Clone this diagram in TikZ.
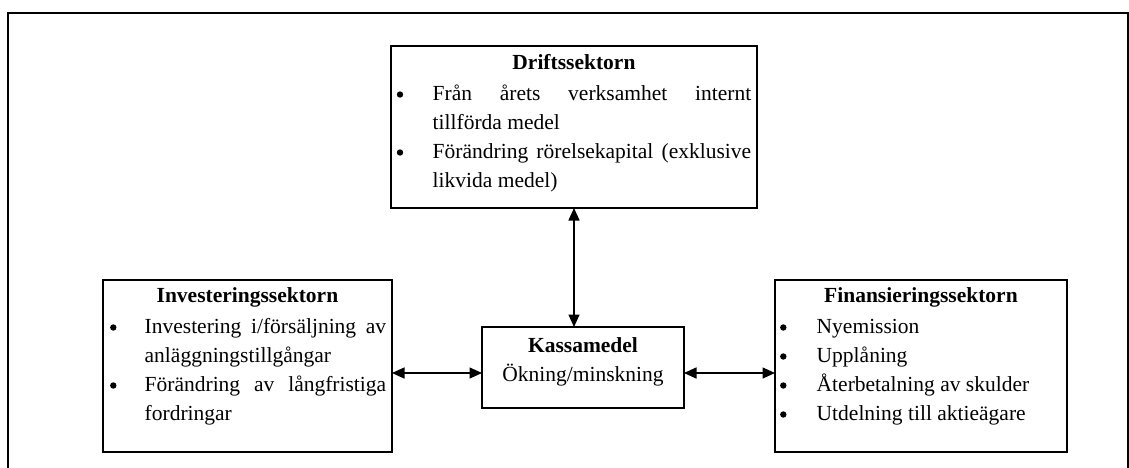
\documentclass[tikz,border=0pt]{standalone}
\usepackage{fontspec}
\setmainfont{Liberation Serif}
\usetikzlibrary{arrows.meta}
\newcommand{\bitem}[1]{\par\hangindent=36pt\hangafter=1\noindent\makebox[36pt][l]{}#1}
\newcommand{\boxhead}[1]{\noindent\makebox[\hsize][c]{\rule{0pt}{16pt}\bfseries #1}\par\vspace{2pt}}
\begin{document}
\begin{tikzpicture}[x=1pt,y=-1pt,
  sector/.style={draw, line width=1.6pt, anchor=north west, inner sep=0pt, outer sep=0pt},
  sectortext/.style={anchor=north west, inner sep=0pt, align=justify,
     font=\fontsize{21.5}{29}\selectfont, execute at begin node={\parskip=0pt}},
  arr/.style={line width=1.5pt, {Triangle[length=12.5pt,width=11pt]}-{Triangle[length=12.5pt,width=11pt]}},
  frame/.style={line width=2pt},
  dot/.style={fill=black}]
\useasboundingbox (0,0) rectangle (1129,467);
% outer frame
\coordinate (fbl) at (7.5,480);
\coordinate (ftl) at (7.5,13);
\coordinate (ftr) at (1128,13);
\coordinate (fbr) at (1128,480);
\draw[frame] (fbl) -- (ftl) -- (ftr) -- (fbr);
% boxes
\node[sector, minimum width=366pt, minimum height=162pt] (drift) at (391,46) {};
\node[sector, minimum width=289pt, minimum height=172pt] (invest) at (103,280) {};
\node[sector, minimum width=202pt, minimum height=81pt] (kassa) at (482,327) {};
\node[sector, minimum width=292pt, minimum height=172pt] (finans) at (775,280) {};
% texts
\node[sectortext, text width=354.5pt] (drifttxt) at (396.5,53) {%
  \boxhead{Driftssektorn}%
  \bitem{Från årets verksamhet internt tillförda medel}%
  \bitem{Förändring rörelsekapital (exklusive likvida medel)}\par};
\node[sectortext, text width=277.5pt] (investtxt) at (108.5,286) {%
  \boxhead{Investeringssektorn}%
  \bitem{Investering i/försäljning av anläggningstillgångar}%
  \bitem{Förändring av långfristiga fordringar}\par};
\node[sectortext, text width=280.5pt] (finanstxt) at (780.5,286) {%
  \boxhead{Finansieringssektorn}%
  \bitem{Nyemission}%
  \bitem{Upplåning}%
  \bitem{Återbetalning av skulder}%
  \bitem{Utdelning till aktieägare}\par};
\node[anchor=north, inner sep=0pt, text width=200pt, align=center,
      font=\fontsize{21.5}{29.5}\selectfont] (kassatxt) at (583,336)
  {\rule{0pt}{16pt}\textbf{Kassamedel}\par Ökning/minskning\par};
% bullets
\foreach \bx/\by in {400/100, 400/158, 113.3/333, 113.3/391,
                     783.3/333, 783.3/362, 783.3/391, 783.3/420}
  \fill[dot] (\bx,\by-5.5) circle (3.2pt);
% connectors
\coordinate (hy) at (0,373);
\draw[arr] (drift.south) -- (kassa.north -| drift.south);
\draw[arr] (invest.east |- hy) -- (kassa.west |- hy);
\draw[arr] (kassa.east |- hy) -- (finans.west |- hy);
\end{tikzpicture}
\end{document}
